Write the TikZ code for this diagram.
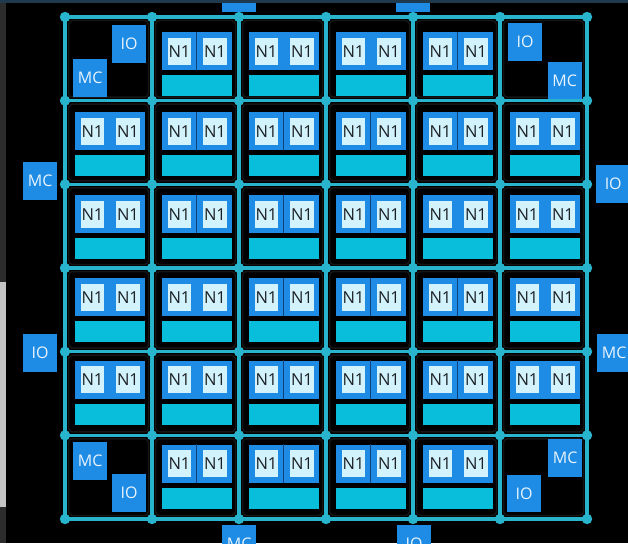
\documentclass[tikz,border=0pt]{standalone}
\usepackage{fontspec}
\setmainfont{Open Sans}
\definecolor{gridc}{RGB}{40,180,204}
\definecolor{blu}{RGB}{30,140,228}
\definecolor{tilec}{RGB}{210,243,251}
\definecolor{cyanbar}{RGB}{8,190,218}
\definecolor{cellrim}{RGB}{22,22,22}
\definecolor{divc}{RGB}{16,66,124}
\definecolor{band}{RGB}{30,58,76}
\definecolor{lbl}{RGB}{232,244,255}
\definecolor{ntext}{RGB}{28,32,38}
\definecolor{stripdark}{RGB}{44,44,44}
\definecolor{striplight}{RGB}{196,196,196}
\tikzset{
  gridline/.style={draw=gridc, line width=3.2pt},
  cellbox/.style={fill=black, draw=cellrim, line width=1.5pt, rounded corners=4pt},
  bluebox/.style={rectangle, fill=blu, inner sep=0pt, minimum width=69.5pt, minimum height=38pt, anchor=north west},
  barbox/.style={rectangle, fill=cyanbar, inner sep=0pt, minimum width=69.5pt, minimum height=21pt, anchor=north west},
  tilebox/.style={rectangle, fill=tilec, inner sep=0pt, minimum width=23.5pt, minimum height=27pt, anchor=north west, text=ntext, font=\fontsize{16.5}{16.5}\selectfont},
  portbox/.style={rectangle, fill=blu, inner sep=0pt, minimum width=34pt, minimum height=37.5pt, anchor=north west, text=lbl, font=\fontsize{16}{16}\selectfont},
}
\begin{document}
\begin{tikzpicture}[x=1pt,y=-1pt]
\useasboundingbox (0,0) rectangle (628,543);
\clip (0,0) rectangle (628,543);
\fill[black] (0,0) rectangle (628,543);
% left strip of the screenshot
\fill[stripdark] (0,0) rectangle (6,282);
\fill[striplight] (0,282) rectangle (6,507);
\fill[stripdark] (0,507) rectangle (6,543);
% grid lines
\foreach \i in {0,...,6} {
  \pgfmathsetmacro\gx{65+87*\i}
  \pgfmathsetmacro\gy{17+83.667*\i}
  \draw[gridline] (\gx,17) -- (\gx,519);
  \draw[gridline] (65,\gy) -- (587,\gy);
}
% cells
\foreach \r/\t in {0/15,1/11.3,2/10.7,3/10,4/8.7,5/9} {
  \foreach \c in {0,...,5} {
    \pgfmathsetmacro\gx{65+87*\c}
    \pgfmathsetmacro\gy{17+83.667*\r}
    \draw[cellbox] ({\gx+3.5},{\gy+3.5}) rectangle ({\gx+83.5},{\gy+80.2});
    \pgfmathtruncatemacro\corner{and(or(\r==0,\r==5),or(\c==0,\c==5))}
    \ifnum\corner=0
      \node[bluebox] (b-\r-\c) at ({\gx+10},{\gy+\t}) {};
      \node[barbox] (s-\r-\c) at ({\gx+10},{\gy+\t+43}) {};
      \node[tilebox] (na-\r-\c) at ({\gx+15.5},{\gy+\t+5.5}) {N1};
      \node[tilebox] (nb-\r-\c) at ({\gx+51},{\gy+\t+5.5}) {N1};
    \fi
  }
}
% dividers between the two halves of some blue boxes
\foreach \r/\c in {0/1,0/4,1/1,1/2,1/3,1/4,2/1,2/2,2/3,3/2,3/3,3/4,4/2,4/3,4/4,5/1,5/2,5/3} {
  \draw[divc, line width=1pt] (b-\r-\c.north) -- (b-\r-\c.south);
}
% intersection dots
\foreach \i in {0,...,6} {
  \foreach \j in {0,...,6} {
    \fill[gridc] ({65+87*\i},{17+83.667*\j}) circle (5.2pt);
  }
}
% corner cells
\node[portbox] (ioTL) at (112,25) {IO};
\node[portbox] (mcTL) at (73,59) {MC};
\node[portbox] (ioTR) at (508,23) {IO};
\node[portbox] (mcTR) at (547.5,61.5) {MC};
\node[portbox] (mcBL) at (73,442) {MC};
\node[portbox] (ioBL) at (112,474) {IO};
\node[portbox] (mcBR) at (548,439) {MC};
\node[portbox] (ioBR) at (507,474.5) {IO};
% outer ports
\node[portbox] (mcL) at (23,162) {MC};
\node[portbox] (ioL) at (23,334) {IO};
\node[portbox] (ioR) at (596,165) {IO};
\node[portbox] (mcR) at (597,334) {MC};
\node[portbox] (topA) at (222,-25.5) {};
\node[portbox] (topB) at (396,-25.5) {};
\node[portbox] (mcB) at (222,525) {MC};
\node[portbox] (ioB) at (397,525) {IO};
% top band of the screenshot
\fill[band] (0,0) rectangle (628,3);
\end{tikzpicture}
\end{document}
